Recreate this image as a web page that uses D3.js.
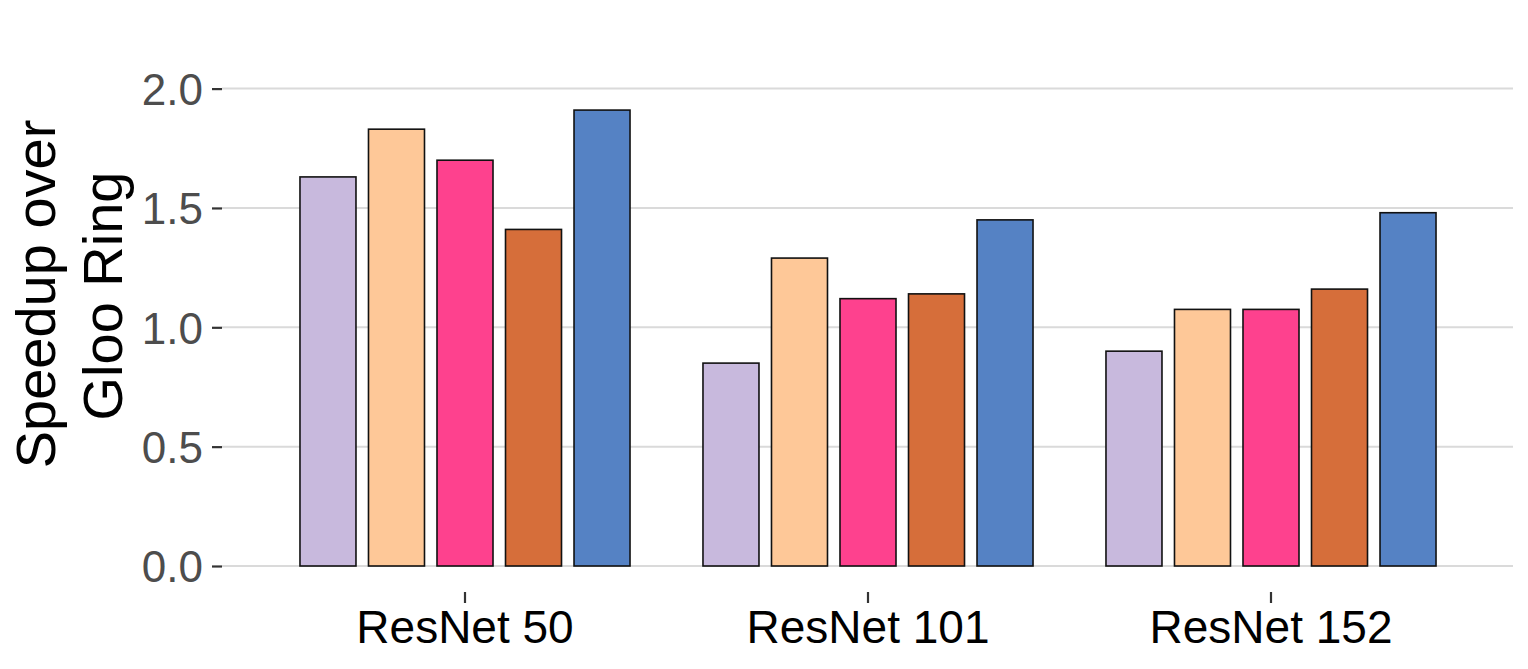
<!DOCTYPE html>
<html>
<head>
<meta charset="utf-8">
<script src="https://cdn.jsdelivr.net/npm/d3@7"></script>
<style>
  html, body { margin: 0; padding: 0; background: #ffffff; }
  svg { display: block; font-family: "Liberation Sans", Arial, Helvetica, sans-serif; }
</style>
</head>
<body>
<svg id="chart" width="1528" height="669"></svg>
<script>
// ---- data ----
const groups = ["ResNet 50", "ResNet 101", "ResNet 152"];
const series = ["Config 1", "Config 2", "Config 3", "Config 4", "Config 5"];
const seriesColors = ["#c8b9dd", "#fec898", "#fe418e", "#d66e3a", "#5582c4"];
const valuesConfig1 = [1.63, 0.85, 0.90];
const valuesConfig2 = [1.83, 1.29, 1.075];
const valuesConfig3 = [1.70, 1.12, 1.075];
const valuesConfig4 = [1.41, 1.14, 1.16];
const valuesConfig5 = [1.91, 1.45, 1.48];
const yTicks = [0.0, 0.5, 1.0, 1.5, 2.0];
const yTitleLines = ["Speedup over", "Gloo Ring"];

const seriesValues = [valuesConfig1, valuesConfig2, valuesConfig3, valuesConfig4, valuesConfig5];
const rows = [];
groups.forEach((g, gi) => {
  series.forEach((s, si) => {
    rows.push({ group: g, series: s, value: seriesValues[si][gi] });
  });
});

// ---- layout ----
const svg = d3.select("#chart");
const plotLeft = 222, plotRight = 1513;
const panelBottom = 592;

const x0 = d3.scaleBand().domain(groups).range([263.5, 1472.5])
  .paddingInner(0.15).paddingOuter(0.075);
const x1 = d3.scaleBand().domain(series).range([0, x0.bandwidth()])
  .paddingInner(0.1825).paddingOuter(0.09125);
const y = d3.scaleLinear().domain([0, 2]).range([566, 88.6]);
const color = d3.scaleOrdinal().domain(series).range(seriesColors);

// gridlines
svg.append("g").selectAll("line").data(yTicks).join("line")
  .attr("x1", plotLeft).attr("x2", plotRight)
  .attr("y1", d => y(d)).attr("y2", d => y(d))
  .attr("stroke", "#dadada").attr("stroke-width", 2);

// y axis (ticks + labels)
const yAxis = d3.axisLeft(y).tickValues(yTicks).tickFormat(d3.format(".1f"))
  .tickSize(10).tickPadding(9);
const gy = svg.append("g").attr("transform", `translate(${plotLeft},0)`).call(yAxis);
gy.select(".domain").remove();
gy.selectAll(".tick line").attr("stroke", "#333333").attr("stroke-width", 2.2);
gy.selectAll(".tick text")
  .attr("fill", "#4d4d4d")
  .attr("font-size", 44)
  .attr("font-family", "Liberation Sans, Arial, sans-serif")
  .attr("dy", "0.36em");

// x axis
const xAxis = d3.axisBottom(x0).tickSize(11).tickPadding(7);
const gx = svg.append("g").attr("transform", `translate(0,${panelBottom})`).call(xAxis);
gx.select(".domain").remove();
gx.selectAll(".tick line").attr("stroke", "#333333").attr("stroke-width", 2.2);
gx.selectAll(".tick text")
  .attr("fill", "#000000")
  .attr("font-size", 46)
  .attr("font-family", "Liberation Sans, Arial, sans-serif");

// bars
svg.append("g").selectAll("rect").data(rows).join("rect")
  .attr("x", d => x0(d.group) + x1(d.series))
  .attr("y", d => y(d.value))
  .attr("width", x1.bandwidth())
  .attr("height", d => y(0) - y(d.value))
  .attr("fill", d => color(d.series))
  .attr("stroke", "#111111")
  .attr("stroke-width", 1.6);

// y title
const titleG = svg.append("g");
const titlePos = [[55, 294], [122, 296]];
yTitleLines.forEach((t, i) => {
  titleG.append("text")
    .attr("transform", `translate(${titlePos[i][0]},${titlePos[i][1]}) rotate(-90)`)
    .attr("text-anchor", "middle")
    .attr("font-size", 56)
    .attr("fill", "#000000")
    .text(t);
});
</script>
</body>
</html>
